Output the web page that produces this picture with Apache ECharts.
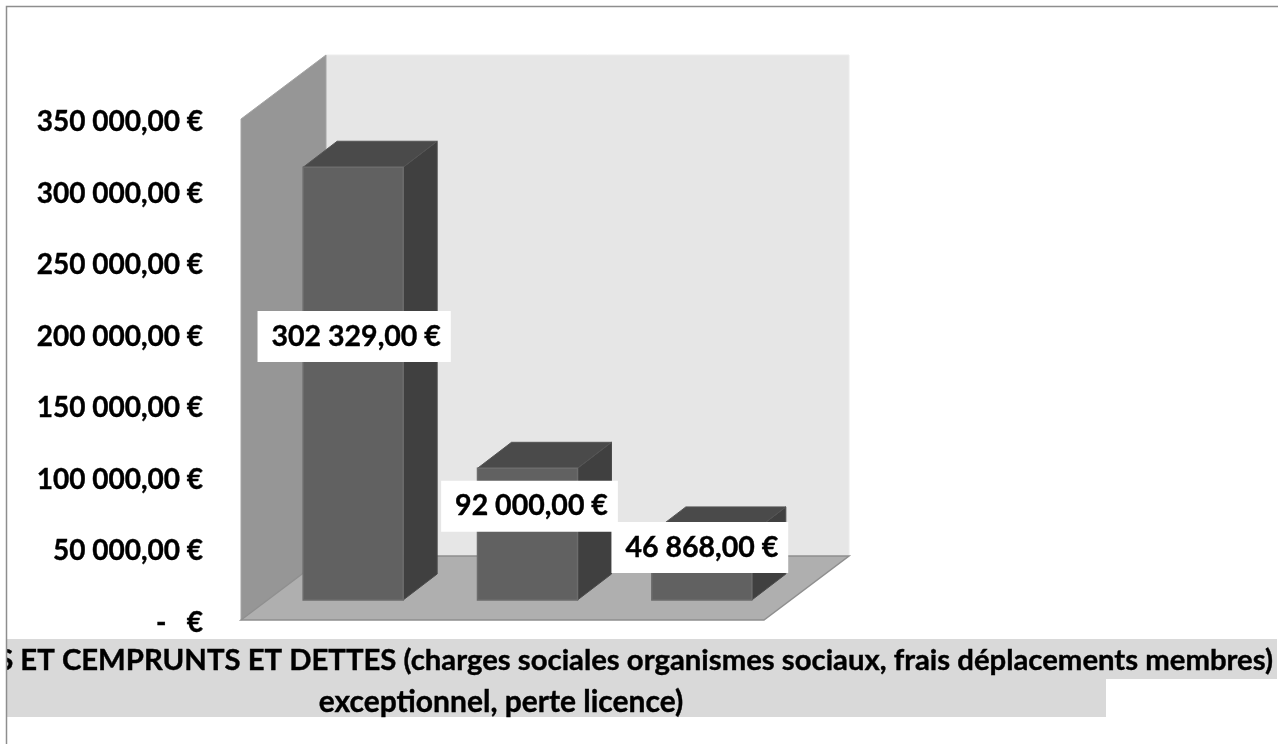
<!DOCTYPE html>
<html>
<head>
<meta charset="utf-8">
<style>
  html, body { margin: 0; padding: 0; background: #fff; }
  #chart { width: 1278px; height: 744px; }
</style>
<script src="https://cdn.jsdelivr.net/npm/echarts@6/dist/echarts.min.js"></script>
</head>
<body>
<div id="chart"></div>
<script>
var categories = ['1', '2', '3'];
var values = [302329, 92000, 46868];
var valueLabels = ['302 329,00 €', '92 000,00 €', '46 868,00 €'];
var yTickLabels = ['-   €', '50 000,00 €', '100 000,00 €', '150 000,00 €', '200 000,00 €', '250 000,00 €', '300 000,00 €', '350 000,00 €'];
var categoryLine1 = 'S ET CEMPRUNTS ET DETTES (charges sociales organismes sociaux, frais déplacements membres)';
var categoryLine2 = 'exceptionnel, perte licence)';

var font = 'Lato, "Open Sans", sans-serif';
var depthX = 85, depthY = -64;         // wall depth
var barDepthX = 34, barDepthY = -26;   // bar depth
var barWidth = 100;
var barShiftX = 25, barShiftY = -20;   // bars stand inside the floor
var labelShift = [[1, -47], [2, -28], [-2, -19]];

var chart = echarts.init(document.getElementById('chart'));

function poly(points, fill, stroke, width) {
  return {
    type: 'polygon',
    shape: { points: points },
    style: { fill: fill, stroke: stroke || fill, lineWidth: width || 1 }
  };
}

function renderWalls(params) {
  var c = params.coordSys;
  var l = c.x, r = c.x + c.width, t = c.y, b = c.y + c.height;
  return {
    type: 'group',
    children: [
      poly([[l + depthX, t + depthY], [r + depthX, t + depthY], [r + depthX, b + depthY], [l + depthX, b + depthY]], '#e6e6e6', '#ececec'),
      poly([[l, t], [l + depthX, t + depthY], [l + depthX, b + depthY], [l, b]], '#969696', '#a4a4a4'),
      poly([[l, b], [l + depthX, b + depthY], [r + depthX, b + depthY], [r, b]], '#afafaf', '#8f8f8f', 1.5)
    ]
  };
}

function renderBar(params, api) {
  var i = api.value(0);
  var top = api.coord([i, api.value(1)]);
  var base = api.coord([i, 0]);
  var x0 = top[0] + barShiftX - barWidth / 2, x1 = x0 + barWidth;
  var y0 = top[1] + barShiftY, y1 = base[1] + barShiftY;
  var dx = barDepthX, dy = barDepthY;
  return {
    type: 'group',
    children: [
      poly([[x1, y0], [x1 + dx, y0 + dy], [x1 + dx, y1 + dy], [x1, y1]], '#404040', '#4c4c4c'),
      poly([[x0, y0], [x0 + dx, y0 + dy], [x1 + dx, y0 + dy], [x1, y0]], '#4a4a4a', '#555555'),
      poly([[x0, y0], [x1, y0], [x1, y1], [x0, y1]], '#616161', '#6c6c6c', 1.5)
    ]
  };
}

function renderLabel(params, api) {
  var i = api.value(0);
  var top = api.coord([i, api.value(1)]);
  var base = api.coord([i, 0]);
  var s = labelShift[i];
  return {
    type: 'text',
    x: top[0] + barShiftX + s[0],
    y: (top[1] + base[1]) / 2 + barShiftY + s[1],
    style: {
      text: valueLabels[i],
      font: 'bold 28.5px ' + font,
      fill: '#000',
      stroke: '#000',
      lineWidth: 0.4,
      align: 'center',
      verticalAlign: 'middle',
      backgroundColor: '#fff',
      padding: [11, 10, 11, 14]
    }
  };
}

var barData = values.map(function(v, i) { return [i, v]; });

chart.setOption({
  animation: false,
  backgroundColor: '#fff',
  grid: { left: 241, top: 119, width: 523, height: 501 },
  xAxis: {
    type: 'category',
    data: categories,
    axisLine: { show: false },
    axisTick: { show: false },
    axisLabel: { show: false }
  },
  yAxis: {
    type: 'value',
    min: 0,
    max: 350000,
    interval: 50000,
    axisLine: { show: false },
    axisTick: { show: false },
    splitLine: { show: false },
    axisLabel: {
      margin: 38,
      formatter: function(v) { return '{t|' + yTickLabels[v / 50000] + '}'; },
      rich: {
        t: {
          color: '#000',
          fontFamily: font,
          fontWeight: 'bold',
          fontSize: 28,
          textBorderColor: '#000',
          textBorderWidth: 0.4,
          padding: [6, 0, 0, 0]
        }
      }
    }
  },
  series: [
    { type: 'custom', renderItem: renderWalls, data: [[0, 0]], silent: true, z: 1, clip: false },
    { type: 'custom', renderItem: renderBar, data: barData, encode: { x: 0, y: 1 }, z: 2, clip: false },
    { type: 'custom', renderItem: renderLabel, data: barData, encode: { x: 0, y: 1 }, z: 3, clip: false }
  ],
  graphic: [
    { type: 'rect', shape: { x: 7, y: 639, width: 1270, height: 40 }, style: { fill: '#d9d9d9' }, z: 10 },
    { type: 'rect', shape: { x: 7, y: 679, width: 1099, height: 38 }, style: { fill: '#d9d9d9' }, z: 10 },
    { type: 'text', x: 1273, y: 661, z: 11, style: { text: categoryLine1, font: 'bold 29.3px ' + font, fill: '#000', stroke: '#000', lineWidth: 0.4, align: 'right', verticalAlign: 'middle' } },
    { type: 'text', x: 501, y: 702, z: 11, style: { text: categoryLine2, font: 'bold 30px ' + font, fill: '#000', stroke: '#000', lineWidth: 0.4, align: 'center', verticalAlign: 'middle' } },
    { type: 'rect', shape: { x: 0, y: 639, width: 7, height: 40 }, style: { fill: '#fff' }, z: 12 },
    { type: 'polyline', shape: { points: [[6.5, 744], [6.5, 6.5], [1278, 6.5]] }, style: { stroke: '#8e8e8e', lineWidth: 1.5, fill: 'none' }, z: 13 }
  ]
});
window.addEventListener('resize', function() { chart.resize(); });
</script>
</body>
</html>
